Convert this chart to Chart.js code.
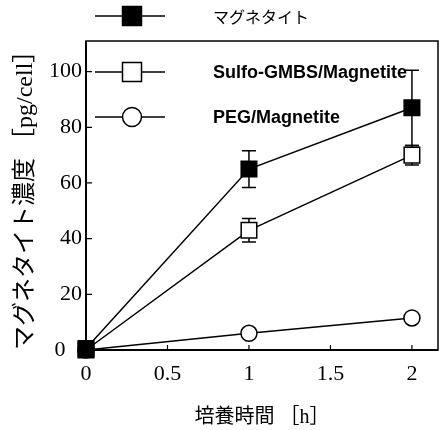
<!DOCTYPE html>
<html>
<head>
<meta charset="utf-8">
<script src="https://cdn.jsdelivr.net/npm/chart.js@4/dist/chart.umd.min.js"></script>
<style>
  html, body { margin: 0; padding: 0; background: #fff; }
  #wrap { width: 441px; height: 430px; }
</style>
</head>
<body>
<div id="wrap"><canvas id="c" width="441" height="430"></canvas></div>
<script>
// Culture time [h] and uptake per cell [pg/cell], mean and error
const hours = [0, 1, 2];
const magnetite = [0.5, 65, 87];
const magnetiteErr = [0, 6.6, 13.5];
const sulfo = [0, 43, 70];
const sulfoErr = [0, 4.2, 3.5];
const peg = [0, 6, 11.5];
const pegErr = [0, 0, 0];
const seriesLabels = ['マグネタイト', 'Sulfo-GMBS/Magnetite', 'PEG/Magnetite'];
const yTickValues = [0, 20, 40, 60, 80, 100];
const xTickValues = [0, 0.5, 1, 1.5, 2];

const pts = (ys) => hours.map((h, i) => ({ x: h, y: ys[i] }));

const serif = "'Liberation Serif', 'Times New Roman', serif";
const cjk = "'Liberation Serif', 'Noto Sans CJK JP', serif";

// Vertical error bars with caps, drawn beneath the markers
const errorBars = {
  id: 'errorBars',
  beforeDatasetsDraw(chart) {
    const { ctx, scales: { x, y } } = chart;
    ctx.save();
    ctx.strokeStyle = '#000';
    ctx.lineWidth = 1.5;
    chart.data.datasets.forEach((ds) => {
      (ds.errors || []).forEach((e, i) => {
        if (!e) return;
        const p = ds.data[i];
        const px = x.getPixelForValue(p.x);
        const top = y.getPixelForValue(p.y + e);
        const bot = y.getPixelForValue(p.y - e);
        ctx.beginPath();
        ctx.moveTo(px, top); ctx.lineTo(px, bot);
        ctx.moveTo(px - 7, top); ctx.lineTo(px + 7, top);
        ctx.moveTo(px - 7, bot); ctx.lineTo(px + 7, bot);
        ctx.stroke();
      });
    });
    ctx.restore();
  }
};

// Frame around the plot with inward tick marks
const frame = {
  id: 'frame',
  beforeDatasetsDraw(chart) {
    const { ctx, chartArea: a, scales: { x, y } } = chart;
    ctx.save();
    ctx.strokeStyle = '#000';
    ctx.lineWidth = 1.5;
    ctx.strokeRect(a.left, a.top, a.right - a.left, a.bottom - a.top);
    ctx.lineWidth = 2;
    ctx.beginPath();
    ctx.moveTo(a.left, a.top); ctx.lineTo(a.left, a.bottom); ctx.lineTo(a.right, a.bottom);
    ctx.stroke();
    ctx.lineWidth = 1.2;
    ctx.beginPath();
    y.ticks.forEach((t) => {
      const py = y.getPixelForValue(t.value);
      ctx.moveTo(a.left, py); ctx.lineTo(a.left + 6, py);
    });
    x.ticks.forEach((t) => {
      const px = x.getPixelForValue(t.value);
      ctx.moveTo(px, a.bottom); ctx.lineTo(px, a.bottom - 5);
    });
    ctx.stroke();
    ctx.restore();
  }
};

// Legend: line with marker, followed by the series name
const sampleLegend = {
  id: 'sampleLegend',
  afterDatasetsDraw(chart) {
    const { ctx } = chart;
    const rows = [16, 72, 117];
    ctx.save();
    chart.data.datasets.forEach((ds, i) => {
      const cy = rows[i];
      ctx.strokeStyle = '#000';
      ctx.lineWidth = 1.5;
      ctx.beginPath();
      ctx.moveTo(95, cy); ctx.lineTo(165, cy);
      ctx.stroke();
      ctx.fillStyle = ds.pointBackgroundColor;
      ctx.beginPath();
      if (ds.pointStyle === 'circle') {
        ctx.arc(132, cy, 9.5, 0, Math.PI * 2);
      } else {
        ctx.rect(132 - 9.5, cy - 9.5, 19, 19);
      }
      ctx.fill();
      ctx.stroke();
      ctx.fillStyle = '#000';
      ctx.textBaseline = 'middle';
      ctx.textAlign = 'left';
      ctx.font = i === 0 ? "16px 'Noto Sans CJK JP'" : "bold 18px 'Liberation Sans', Arial, sans-serif";
      ctx.fillText(ds.label, 213, cy + 1);
    });
    ctx.restore();
  }
};

const mkSet = (label, data, errors, style, fill, radius) => ({
  label,
  data: pts(data),
  errors,
  borderColor: '#000',
  borderWidth: 1.5,
  pointStyle: style,
  pointRadius: radius,
  pointHoverRadius: radius,
  pointBackgroundColor: fill,
  pointBorderColor: '#000',
  pointBorderWidth: 1.5,
  tension: 0,
  clip: false
});

new Chart(document.getElementById('c'), {
  type: 'line',
  data: {
    datasets: [
      mkSet(seriesLabels[0], magnetite, magnetiteErr, 'rect', '#000', 11),
      mkSet(seriesLabels[1], sulfo, sulfoErr, 'rect', '#fff', 11),
      mkSet(seriesLabels[2], peg, pegErr, 'circle', '#fff', 8)
    ]
  },
  options: {
    responsive: false,
    animation: false,
    devicePixelRatio: 1,
    layout: { autoPadding: false, padding: { top: 41, right: 3, left: 0, bottom: 0 } },
    plugins: { legend: { display: false }, tooltip: { enabled: false } },
    scales: {
      x: {
        type: 'linear',
        min: 0,
        max: 2.16,
        afterBuildTicks: (s) => { s.ticks = xTickValues.map((v) => ({ value: v })); },
        afterFit: (s) => { s.height = 80; s.paddingLeft = 0; s.paddingRight = 0; },
        grid: { display: false, drawTicks: false, tickLength: 0 },
        border: { display: false },
        ticks: { color: '#000', font: { family: serif, size: 22 }, padding: 11, maxRotation: 0, callback: (v) => String(v) },
        title: { display: true, text: '培養時間 ［h］', color: '#000', font: { family: cjk, size: 20 }, padding: { top: 10, bottom: 0 } }
      },
      y: {
        type: 'linear',
        min: 0,
        max: 111,
        afterBuildTicks: (s) => { s.ticks = yTickValues.map((v) => ({ value: v })); },
        afterFit: (s) => { s.width = 86; },
        grid: { display: false, drawTicks: false, tickLength: 0 },
        border: { display: false },
        // the zero label is nudged left so the marker at the origin does not cover it
        ticks: { color: '#000', font: { family: serif, size: 22 }, padding: 4, callback: (v) => String(v) + (v === 0 ? '   ' : '') },
        title: { display: true, align: 'start', text: 'マグネタイト濃度 ［pg/cell］', color: '#000', font: { family: cjk, size: 24 }, padding: { top: 11, bottom: 0 } }
      }
    }
  },
  plugins: [frame, errorBars, sampleLegend]
});
</script>
</body>
</html>
